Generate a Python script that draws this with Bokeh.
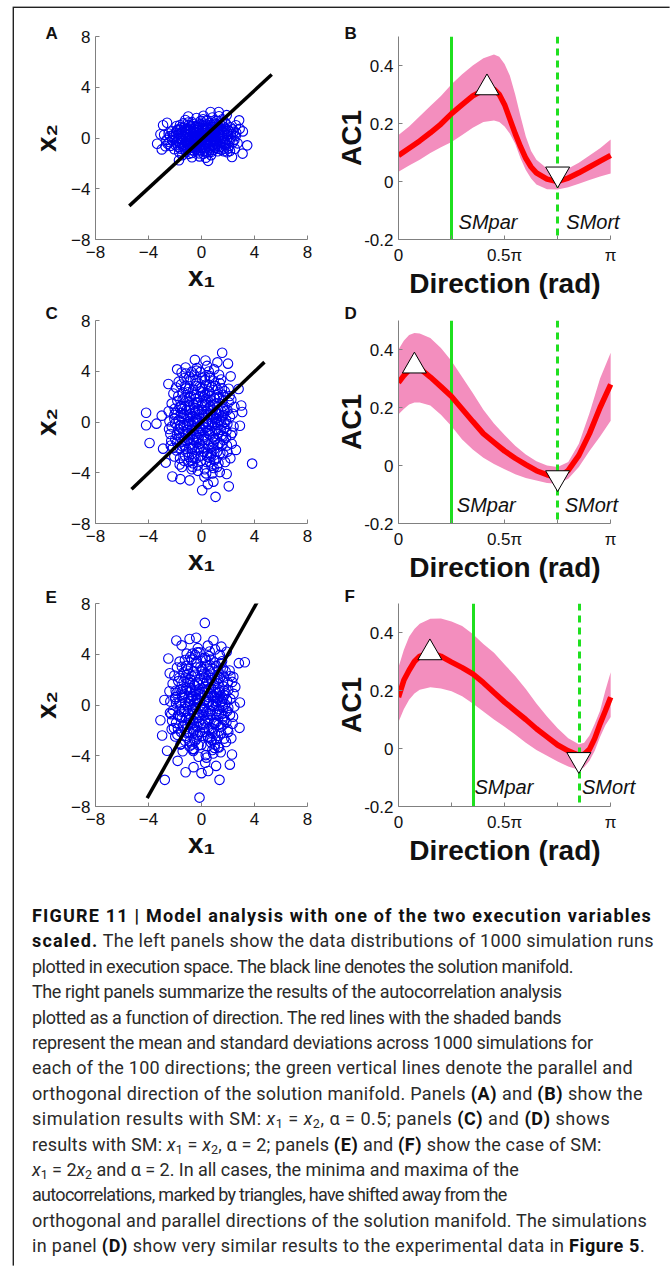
from bokeh.plotting import figure
from bokeh.models import Range1d, FixedTicker, Label, Div
from bokeh.layouts import row, column
from bokeh.embed import file_html
from bokeh.resources import INLINE

# ---------------- data: execution-space scatter (x1, x2) ----------------
a_pts = [(-0.12,0.31),(0.45,-0.22),(1.02,0.48),(-0.87,-0.35),(0.23,0.72),(-1.41,0.12),(1.63,-0.41),(-0.35,-0.81),(0.78,0.05),(-0.62,0.55),
(1.25,0.91),(-1.05,-0.62),(0.05,-0.15),(2.01,0.33),(-1.83,-0.21),(0.61,-0.66),(-0.28,0.98),(1.47,-0.05),(-0.95,0.27),(0.32,0.18),
(-1.62,0.64),(0.92,-0.93),(-0.51,-0.08),(1.81,0.72),(-2.12,0.05),(0.15,1.12),(0.68,0.62),(-1.24,-0.95),(1.12,-0.28),(-0.08,-0.52),
(2.35,-0.36),(-0.77,0.83),(0.48,0.35),(-1.95,-0.58),(1.38,0.22),(-0.41,0.41),(0.88,1.05),(-1.18,0.45),(0.21,-1.02),(1.71,-0.82),
(-0.65,-0.48),(0.03,0.62),(-2.41,-0.32),(1.55,1.22),(-0.19,-1.21),(0.72,-0.31),(-1.48,-0.42),(2.18,0.85),(-0.98,1.01),(0.38,-0.48),
(1.05,0.12),(-0.33,0.12),(-1.72,0.31),(0.95,0.71),(-0.55,-1.05),(1.92,-0.15),(-1.32,0.82),(0.12,0.95),(0.55,-1.12),(-0.82,-0.12),
(2.58,0.15),(-2.25,0.52),(1.28,-0.62),(-0.15,0.52),(0.66,0.28),(-1.15,0.08),(1.68,0.42),(-0.45,-0.35),(0.28,-0.75),(-2.65,-0.15),
(1.15,1.35),(-0.72,1.25),(0.42,1.42),(-1.58,-0.85),(2.08,-0.62),(-0.25,-0.18),(0.85,-0.55),(-1.88,0.95),(1.42,0.62),(-0.05,1.35),
(0.18,0.08),(-1.02,-0.25),(1.62,0.05),(-0.58,0.72),(2.42,0.48),(-2.05,-0.88),(0.75,0.88),(-0.35,-0.65),(1.22,-1.05),(-1.38,1.15),
(0.58,0.48),(-0.88,0.62),(1.88,1.08),(-1.68,-1.12),(0.35,-0.28),(-0.12,-0.95),(2.72,-0.42),(-2.48,0.35),(1.02,-0.78),(-0.68,0.15),
(0.08,0.42),(-1.28,-0.55),(1.35,0.45),(-0.42,0.95),(0.95,-0.12),(-1.92,0.42),(2.25,0.12),(-0.15,-1.45),(0.62,1.18),(-1.05,0.75),
(1.75,-0.45),(-0.52,-0.72),(0.25,0.25),(-2.32,-0.62),(1.52,-0.92),(-0.85,-0.95),(2.05,0.58),(-1.52,0.18),(0.45,0.65),(-0.25,0.78),
(1.18,0.68),(-0.95,-1.25),(0.72,-1.35),(-1.75,0.68),(2.52,-0.85),(-0.08,0.18),(0.98,0.32),(-0.62,-0.25),(1.58,1.48),(-1.22,1.42),
(0.32,-1.55),(-2.82,0.25),(1.95,-1.12),(-0.38,1.58),(0.82,1.62),(-1.45,-1.35),(2.88,0.72),(-0.72,-1.52),(1.32,1.72),(0.15,1.75),
(0.52,0.12),(-0.38,-0.42),(1.15,-0.45),(-1.12,0.32),(0.28,0.58),(-0.72,-0.72),(1.72,0.18),(-1.55,0.02),(0.02,-0.32),(0.95,1.22),
(-0.48,0.18),(1.48,-0.68),(-1.85,0.62),(0.65,-0.95),(-0.18,0.85),(2.12,-0.25),(-2.22,-0.18),(0.38,1.32),(-0.92,-0.55),(1.32,0.85),
(-0.05,0.05),(0.82,0.42),(-1.35,-0.72),(1.92,0.52),(-0.62,1.08),(0.12,-0.68),(1.05,-0.18),(-1.65,-0.35),(0.48,-0.38),(-0.28,-1.05),
(2.35,0.68),(-2.08,0.28),(0.72,1.02),(-1.05,0.52),(1.58,-0.25),(-0.35,0.62),(0.22,0.38),(-0.82,0.92),(1.25,0.35),(-1.48,0.48),
(0.92,-0.38),(-0.12,-0.62),(1.62,0.92),(-1.92,-0.38),(0.58,-0.15),(-0.55,-0.15),(2.02,-0.82),(-2.38,0.15),(0.35,0.92),(-0.75,-0.28),
(1.08,0.88),(-1.18,-1.08),(0.15,-1.25),(1.82,-0.55),(-0.95,0.05),(0.68,-0.52),(-1.52,0.85),(2.22,0.32),(-0.42,-0.88),(0.85,0.15),
(-0.22,0.28),(1.38,-0.35),(-1.75,-0.72),(0.45,0.78),(-0.65,0.35),(1.75,1.25),(-1.28,0.65),(0.05,0.78),(0.98,-0.65),(-0.88,-0.78),
(2.48,-0.15),(-2.55,-0.45),(0.62,0.05),(-0.32,-0.28),(1.22,0.05),(-1.02,1.22),(0.28,-0.48),(1.52,0.68),(-0.58,0.48),(0.75,-1.08),
(-1.42,-0.18),(1.95,0.25),(-0.15,1.08),(0.55,-0.82),(-1.95,0.18),(1.12,1.12),(-0.72,-1.18),(0.18,0.62),(1.68,-1.05),(-1.22,-0.32),
(2.62,0.42),(-2.72,-0.65),(0.88,0.55),(-0.48,-0.55),(1.42,1.05),(-0.85,0.72),(0.38,-1.15),(-1.62,1.02),(2.15,-1.02),(-0.08,-0.78),
(0.72,0.32),(-0.25,-0.45),(1.02,0.68),(-1.08,-0.45),(0.42,0.15),(-0.38,0.12),(1.28,-0.85),(-1.72,-0.05),(0.12,1.48),(-0.62,-0.62),
(-2.9,1.0),(-3.35,-0.45),(3.45,-0.58),(3.1,-1.23),(2.84,1.39),(3.12,0.52),(1.3,2.05),(0.68,2.05),(-1.7,-1.75),(0.5,-1.8),
(2.3,-1.5),(-3.0,-0.9),(-2.6,1.2),(1.9,1.8),(-1.0,1.7),(2.6,1.0),(-3.1,0.3)]

c_pts = [(0.12,0.55),(-0.45,1.82),(0.88,-1.21),(-1.12,-0.35),(0.35,2.95),(-0.72,-2.48),(1.45,0.92),(-0.18,-0.88),(0.62,3.62),(-1.55,1.25),
(1.05,-2.95),(-0.32,0.15),(0.25,-3.72),(-0.95,2.62),(1.72,-0.45),(-1.85,-1.62),(0.48,1.05),(-0.58,-1.45),(1.28,2.18),(-0.08,3.95),
(0.78,-0.28),(-1.35,0.62),(2.05,1.55),(-0.22,-2.15),(0.95,0.35),(-0.82,3.35),(1.52,-1.85),(-1.62,-2.85),(0.15,-1.05),(-0.48,0.82),
(1.18,-3.55),(-2.05,0.25),(0.55,2.45),(-1.02,-0.95),(1.85,0.18),(-0.35,4.25),(0.68,-2.05),(-1.28,1.92),(2.22,-1.02),(-0.65,-3.25),
(0.05,1.48),(-1.72,-0.58),(1.38,3.05),(-0.15,-0.32),(0.42,-2.72),(-0.92,0.05),(1.62,1.22),(-2.25,1.45),(0.82,-4.05),(-0.55,2.15),
(1.08,0.72),(-1.45,-1.92),(0.28,3.28),(-0.75,-0.62),(1.95,-2.35),(-1.92,2.72),(0.62,-0.72),(-0.28,-3.85),(1.25,-0.95),(-1.18,3.82),
(0.38,0.02),(-0.62,1.35),(1.55,2.65),(-2.35,-0.95),(0.92,-1.62),(-0.05,2.42),(1.78,-3.15),(-1.52,0.35),(0.18,-2.35),(-0.88,-1.75),
(2.35,0.65),(-0.38,3.05),(0.72,1.72),(-1.25,-2.65),(1.02,-0.12),(-1.98,-0.12),(0.45,-1.42),(-0.68,0.45),(1.32,3.72),(-1.42,2.35),
(0.08,-0.62),(-0.25,1.02),(1.68,-1.42),(-2.15,-2.05),(0.58,2.88),(-1.05,1.58),(1.48,0.05),(-0.45,-2.92),(0.95,4.15),(-1.65,-3.35),
(2.12,2.05),(-0.12,-1.72),(0.32,0.85),(-0.95,-0.15),(1.15,1.45),(-1.38,-0.75),(0.65,-3.18),(-0.55,3.72),(1.88,-0.72),(-2.48,0.85),
(0.22,-4.32),(-0.82,2.05),(1.42,-2.45),(-1.15,0.95),(0.85,0.52),(-0.32,-1.25),(2.42,-0.35),(-1.82,1.65),(0.48,-0.15),(-0.15,2.78),
(1.22,-1.78),(-0.72,-2.12),(0.02,3.45),(-1.55,-1.25),(1.65,0.55),(-0.42,0.25),(0.75,-2.45),(-1.95,0.72),(1.05,2.85),(-0.28,-3.42),
(2.28,-1.72),(-1.32,-3.05),(0.35,1.62),(-0.62,-0.95),(1.52,-0.28),(-2.28,-1.48),(0.55,3.98),(-0.88,1.12),(1.95,0.95),(-1.05,-2.35),
(0.12,-2.02),(-0.18,0.62),(1.32,1.92),(-1.72,3.18),(0.92,-3.62),(-0.52,-0.45),(1.75,2.42),(-2.05,-2.72),(0.28,2.12),(-0.98,-1.35),
(1.12,0.28),(-1.48,1.05),(0.68,-1.05),(-0.05,-2.65),(2.18,-2.85),(-1.22,2.85),(0.42,4.42),(-0.75,-3.72),(1.62,-1.12),(-2.42,0.05),
(0.85,1.32),(-0.35,-0.05),(1.38,-3.95),(-1.62,-0.25),(0.15,1.95),(-0.92,3.55),(2.48,1.18),(-1.85,-1.05),(0.58,-2.82),(-0.42,1.55),
(0.32,-0.45),(-0.25,0.95),(0.72,0.65),(-0.85,-1.05),(1.12,-0.55),(-1.28,0.28),(0.45,2.25),(-0.55,-2.72),(1.58,1.72),(-1.68,-0.85),
(0.08,-1.45),(-0.12,1.95),(0.95,-2.15),(-1.02,2.35),(1.35,0.15),(-1.45,-1.55),(0.58,-0.95),(-0.35,0.35),(1.85,-1.25),(-2.02,1.05),
(0.25,3.58),(-0.68,-3.52),(1.22,2.55),(-1.15,-2.12),(0.82,-0.05),(-0.92,1.62),(1.65,-2.55),(-1.75,2.05),(0.38,-3.15),(-0.42,2.85),
(2.15,0.42),(-2.25,-0.35),(0.65,1.25),(-0.72,-0.25),(1.02,-1.35),(-1.22,1.25),(0.18,0.32),(-0.18,-0.72),(1.45,-0.62),(-1.55,0.72),
(0.52,-1.85),(-0.62,2.55),(1.75,0.85),(-1.88,-2.25),(0.02,2.72),(-0.05,-3.05),(0.92,3.25),(-0.98,-3.15),(1.28,-3.25),(-1.32,3.45),
(2.32,-0.85),(-2.45,-0.55),(0.48,0.55),(-0.52,1.12),(1.15,1.95),(-1.12,-1.48),(0.72,-2.65),(-0.78,0.62),(1.62,2.15),(-1.62,-2.05),
(0.15,-0.15),(-0.22,-1.25),(0.85,0.95),(-0.88,0.38),(1.38,-1.65),(-1.42,1.75),(0.62,3.48),(-0.65,-1.95),(1.92,-1.85),(-1.98,-1.35),
(0.28,1.35),(-0.32,-2.25),(1.05,-0.72),(-1.05,0.52),(1.55,0.45),(-1.58,-0.45),(0.42,-2.42),(-0.45,3.25),(2.05,2.62),(-2.12,2.25),
(0.75,-3.45),(-0.75,3.95),(1.25,0.95),(-1.25,-0.95),(0.05,0.95),(-0.08,-0.45),(0.98,1.85),(-0.95,-2.75),(1.72,-0.02),(-1.72,0.15),
(0.35,-4.05),(-0.38,4.05),(1.48,3.35),(-1.48,-3.55),(0.68,2.05),(-0.65,-1.35),(1.18,-2.35),(-1.18,2.65),(2.25,1.75),(-2.32,-1.85),
(0.55,0.22),(-0.52,-0.12),(0.88,-1.85),(-0.92,1.95),(1.32,0.62),(-1.35,-0.25),(0.12,2.35),(-0.15,-2.05),(1.68,1.05),(-1.65,1.15),
(0.48,-0.65),(-0.48,0.72),(1.08,0.25),(-1.08,-0.62),(0.78,2.75),(-0.78,-3.05),(1.52,-1.05),(-1.55,2.95),(0.22,-1.15),(-0.25,1.55),
(1.95,-0.15),(-2.05,0.55),(0.95,-3.02),(-0.95,0.95),(0.38,1.85),(-0.38,-1.65),(1.25,-0.25),(-1.28,-1.85),(0.65,0.85),(-0.62,0.05),
(-4.18,0.73),(-4.18,-0.26),(-3.92,-1.65),(-3.4,-0.13),(3.82,-3.28),(2.06,-5.07),(1.06,-5.9),(1.56,5.46),(0.05,-5.38),(0.48,-4.9),
(2.0,4.6),(-1.84,4.15),(3.0,1.3),(3.07,0.79),(-0.5,4.9),(0.3,4.85),(-2.2,-4.3),(-1.6,-4.5),(2.6,-2.2),(-3.0,0.5),
(-2.9,-2.1),(2.8,2.6),(2.9,-0.3),(1.9,-4.1),(-0.9,-4.6),(-1.5,3.9),(1.2,4.7),(-2.5,3.0),(2.2,3.6),(-2.7,-3.2),(0.9,-4.7),(-1.2,4.3)]

e_pts = [(0.21,0.35),(-0.52,1.55),(0.95,-1.45),(-1.05,-0.12),(0.42,3.15),(-0.65,-2.25),(1.38,1.12),(-0.25,-0.65),(0.55,3.85),(-1.48,1.05),
(1.12,-2.72),(-0.38,0.38),(0.32,-3.95),(-1.02,2.85),(1.65,-0.22),(-1.78,-1.85),(0.55,1.28),(-0.62,-1.22),(1.35,2.42),(-0.15,4.15),
(0.85,-0.05),(-1.28,0.85),(1.98,1.78),(-0.28,-2.38),(1.02,0.58),(-0.75,3.58),(1.58,-1.62),(-1.55,-3.08),(0.22,-0.82),(-0.42,1.05),
(1.25,-3.32),(-1.98,0.48),(0.62,2.68),(-0.95,-1.18),(1.92,0.42),(-0.28,4.48),(0.75,-1.82),(-1.22,2.15),(2.15,-0.78),(-0.58,-3.48),
(0.12,1.72),(-1.65,-0.35),(1.45,3.28),(-0.08,-0.08),(0.48,-2.48),(-0.85,0.28),(1.68,1.45),(-2.18,1.68),(0.88,-3.82),(-0.48,2.38),
(1.15,0.95),(-1.38,-1.68),(0.35,3.52),(-0.68,-0.38),(2.02,-2.12),(-1.85,2.95),(0.68,-0.48),(-0.22,-4.08),(1.32,-0.72),(-1.12,4.05),
(0.45,0.25),(-0.55,1.58),(1.62,2.88),(-2.28,-0.72),(0.98,-1.38),(0.02,2.65),(1.85,-2.92),(-1.45,0.58),(0.25,-2.12),(-0.82,-1.52),
(2.42,0.88),(-0.32,3.28),(0.78,1.95),(-1.18,-2.42),(1.08,0.12),(-1.92,0.12),(0.52,-1.18),(-0.62,0.68),(1.38,3.95),(-1.35,2.58),
(0.15,-0.38),(-0.18,1.25),(1.75,-1.18),(-2.08,-1.82),(0.65,3.12),(-0.98,1.82),(1.55,0.28),(-0.38,-2.68),(1.02,4.38),(-1.58,-3.12),
(2.18,2.28),(-0.05,-1.48),(0.38,1.08),(-0.88,0.08),(1.22,1.68),(-1.32,-0.52),(0.72,-2.95),(-0.48,3.95),(1.95,-0.48),(-2.42,1.08),
(0.28,-4.55),(-0.75,2.28),(1.48,-2.22),(-1.08,1.18),(0.92,0.75),(-0.25,-1.02),(2.48,-0.12),(-1.75,1.88),(0.55,0.08),(-0.08,3.02),
(1.28,-1.55),(-0.65,-1.88),(0.08,3.68),(-1.48,-1.02),(1.72,0.78),(-0.35,0.48),(0.82,-2.22),(-1.88,0.95),(1.12,3.08),(-0.22,-3.18),
(2.35,-1.48),(-1.25,-2.82),(0.42,1.85),(-0.55,-0.72),(1.58,-0.05),(-2.22,-1.25),(0.62,4.22),(-0.82,1.35),(2.02,1.18),(-0.98,-2.12),
(0.18,-1.78),(-0.12,0.85),(1.38,2.15),(-1.65,3.42),(0.98,-3.38),(-0.45,-0.22),(1.82,2.65),(-1.98,-2.48),(0.35,2.35),(-0.92,-1.12),
(1.18,0.52),(-1.42,1.28),(0.75,-0.82),(0.02,-2.42),(2.25,-2.62),(-1.15,3.08),(0.48,4.68),(-0.68,-3.48),(1.68,-0.88),(-2.35,0.28),
(0.92,1.55),(-0.28,0.18),(1.45,-3.72),(-1.55,-0.02),(0.22,2.18),(-0.85,3.78),(2.55,1.42),(-1.78,-0.82),(0.65,-2.58),(-0.35,1.78),
(0.35,-0.55),(-0.22,0.88),(0.78,0.72),(-0.82,-1.12),(1.18,-0.48),(-1.22,0.22),(0.52,2.35),(-0.48,-2.82),(1.62,1.85),(-1.62,-0.92),
(0.12,-1.55),(-0.08,2.05),(1.02,-2.25),(-0.98,2.45),(1.42,0.22),(-1.38,-1.62),(0.62,-1.02),(-0.32,0.42),(1.88,-1.35),(-1.95,1.12),
(0.28,3.72),(-0.62,-3.62),(1.28,2.65),(-1.08,-2.22),(0.88,0.02),(-0.88,1.72),(1.72,-2.65),(-1.68,2.15),(0.42,-3.25),(-0.38,2.95),
(2.18,0.48),(-2.15,-0.42),(0.72,1.32),(-0.68,-0.32),(1.08,-1.42),(-1.15,1.32),(0.22,0.38),(-0.15,-0.78),(1.52,-0.68),(-1.48,0.78),
(0.58,-1.95),(-0.58,2.65),(1.82,0.92),(-1.82,-2.35),(0.05,2.82),(-0.02,-3.15),(0.98,3.35),(-0.92,-3.25),(1.32,-3.35),(-1.25,3.55),
(2.38,-0.92),(-2.38,-0.62),(0.52,0.62),(-0.48,1.18),(1.22,2.05),(-1.05,-1.55),(0.78,-2.75),(-0.72,0.68),(1.68,2.25),(-1.55,-2.12),
(0.18,-0.22),(-0.18,-1.32),(0.92,1.02),(-0.82,0.45),(1.45,-1.72),(-1.35,1.82),(0.68,3.58),(-0.58,-2.02),(1.98,-1.92),(-1.92,-1.42),
(0.32,1.42),(-0.28,-2.32),(1.12,-0.78),(-0.98,0.58),(1.62,0.52),(-1.52,-0.52),(0.48,-2.52),(-0.42,3.35),(2.12,2.72),(-2.05,2.32),
(0.82,-3.55),(-0.68,4.05),(1.32,1.02),(-1.18,-1.02),(0.08,1.02),(-0.05,-0.52),(1.05,1.92),(-0.88,-2.85),(1.78,0.05),(-1.65,0.22),
(0.38,-4.15),(-0.32,4.15),(1.55,3.45),(-1.42,-3.65),(0.72,2.12),(-0.58,-1.42),(1.25,-2.42),(-1.12,2.72),(2.32,1.82),(-2.25,-1.92),
(0.58,0.28),(-0.45,-0.18),(0.92,-1.92),(-0.85,2.02),(1.38,0.68),(-1.28,-0.32),(0.15,2.42),(-0.12,-2.12),(1.72,1.12),(-1.58,1.22),
(0.52,-0.72),(-0.42,0.78),(1.12,0.32),(-1.02,-0.68),(0.82,2.85),(-0.72,-3.12),(1.58,-1.12),(-1.48,3.02),(0.25,-1.22),(-0.22,1.62),
(2.02,-0.22),(-1.98,0.62),(1.02,-3.12),(-0.88,1.02),(0.42,1.92),(-0.32,-1.72),(1.32,-0.32),(-1.22,-1.92),(0.72,0.92),(-0.55,0.12),
(0.25,6.47),(-0.15,-7.3),(-2.77,-5.9),(1.36,-5.9),(2.14,-4.7),(2.87,-1.8),(3.27,3.37),(2.82,3.3),(-3.1,-1.2),(-1.9,5.08),
(-2.5,3.66),(-2.97,-2.4),(0.0,-5.37),(-1.2,-5.3),(-1.5,4.7),(-0.4,5.3),(0.9,5.1),(1.5,4.6),(2.4,2.2),(-2.8,0.4),
(-0.6,-4.9),(1.1,-4.8),(-1.8,-4.4),(2.3,-3.9),(-2.6,-3.6),(2.9,0.2),(-2.4,2.5),(1.9,4.2),(-0.9,5.2),(0.5,-5.2)]

# solution manifold end points (x1, x2)
sm_a_x1 = [-5.45, 5.3];  sm_a_x2 = [-5.35, 5.0]
sm_c_x1 = [-5.28, 4.75]; sm_c_x2 = [-5.3, 4.72]
sm_e_x1 = [-4.1, 4.2];   sm_e_x2 = [-7.34, 8.1]

# ---------------- data: AC1 vs direction (direction in units of pi) ----------------
b_dir  = [0, 0.05, 0.1, 0.15, 0.2, 0.25, 0.3, 0.35, 0.4, 0.45, 0.475, 0.5, 0.525, 0.55, 0.575, 0.6, 0.625, 0.65, 0.7, 0.75, 0.8, 0.85, 0.9, 0.95, 1.0]
b_mean = [0.09, 0.115, 0.14, 0.168, 0.198, 0.234, 0.265, 0.295, 0.315, 0.318, 0.30, 0.265, 0.215, 0.165, 0.12, 0.08, 0.05, 0.03, 0.008, 0.0, 0.012, 0.03, 0.05, 0.07, 0.09]
b_up   = [0.16, 0.19, 0.225, 0.26, 0.295, 0.335, 0.37, 0.40, 0.425, 0.438, 0.43, 0.405, 0.365, 0.30, 0.225, 0.155, 0.105, 0.075, 0.045, 0.038, 0.045, 0.065, 0.09, 0.115, 0.145]
b_lo   = [0.034, 0.055, 0.075, 0.098, 0.118, 0.136, 0.16, 0.185, 0.205, 0.21, 0.205, 0.19, 0.165, 0.13, 0.08, 0.04, 0.01, -0.01, -0.027, -0.028, -0.02, -0.008, 0.005, 0.017, 0.028]
b_max = (0.417, 0.323); b_min = (0.75, 0.026)
b_par, b_ort = 0.25, 0.75

d_dir  = [0, 0.025, 0.05, 0.075, 0.1, 0.15, 0.2, 0.25, 0.3, 0.35, 0.4, 0.45, 0.5, 0.55, 0.6, 0.65, 0.7, 0.75, 0.8, 0.85, 0.9, 0.95, 1.0]
d_mean = [0.286, 0.31, 0.33, 0.343, 0.335, 0.305, 0.272, 0.238, 0.195, 0.152, 0.11, 0.08, 0.05, 0.025, 0.003, -0.018, -0.032, -0.042, -0.017, 0.035, 0.11, 0.2, 0.28]
d_up   = [0.40, 0.43, 0.45, 0.457, 0.455, 0.44, 0.405, 0.36, 0.305, 0.25, 0.192, 0.145, 0.105, 0.068, 0.038, 0.015, 0.0, -0.005, 0.012, 0.075, 0.18, 0.30, 0.389]
d_lo   = [0.177, 0.195, 0.21, 0.217, 0.217, 0.207, 0.175, 0.135, 0.09, 0.055, 0.027, 0.005, -0.013, -0.03, -0.043, -0.052, -0.06, -0.063, -0.046, -0.005, 0.05, 0.10, 0.154]
d_max = (0.075, 0.343); d_min = (0.75, -0.042)
d_par, d_ort = 0.25, 0.75

f_dir  = [0, 0.025, 0.05, 0.075, 0.1, 0.15, 0.2, 0.25, 0.3, 0.35, 0.4, 0.45, 0.5, 0.55, 0.6, 0.65, 0.7, 0.75, 0.8, 0.85, 0.875, 0.9, 0.925, 0.95, 0.975, 1.0]
f_mean = [0.177, 0.235, 0.27, 0.30, 0.318, 0.331, 0.318, 0.298, 0.279, 0.257, 0.227, 0.193, 0.16, 0.13, 0.10, 0.068, 0.04, 0.012, -0.008, -0.023, -0.02, -0.003, 0.035, 0.085, 0.13, 0.177]
f_up   = [0.28, 0.34, 0.385, 0.412, 0.43, 0.447, 0.448, 0.438, 0.422, 0.395, 0.36, 0.33, 0.29, 0.25, 0.205, 0.155, 0.11, 0.07, 0.035, 0.015, 0.02, 0.045, 0.085, 0.13, 0.20, 0.263]
f_lo   = [0.091, 0.135, 0.168, 0.19, 0.203, 0.211, 0.207, 0.197, 0.18, 0.155, 0.128, 0.10, 0.075, 0.048, 0.02, -0.005, -0.025, -0.045, -0.062, -0.073, -0.065, -0.042, -0.008, 0.04, 0.08, 0.109]
f_max = (0.148, 0.33); f_min = (0.85, -0.038)
f_par, f_ort = 0.352, 0.852

xy_ticks = [-8, -4, 0, 4, 8]
dir_ticks = [0, 0.25, 0.5, 0.75, 1.0]
dir_labels = {0: "0", 0.25: "", 0.5: "0.5\u03c0", 0.75: "", 1.0: "\u03c0"}
ac_ticks = [-0.2, 0, 0.2, 0.4]
ac_labels = {-0.2: "-0.2", 0: "0", 0.2: "0.2", 0.4: "0.4"}

FONT = "Liberation Sans"
GREY = "#808080"
BLUE = "#0000EE"
PINK = "#F38EBE"
GREEN = "#1FE01F"
DIR_XMAX = 1.15   # frame extends a little past pi so the SMort text is not cut


def style_axes(p, xlabel, ylabel, xstand, ystand):
    for ax in (p.xaxis[0], p.yaxis[0]):
        ax.axis_line_color = GREY
        ax.axis_line_width = 1
        ax.major_tick_line_color = GREY
        ax.major_tick_in = 4
        ax.major_tick_out = 0
        ax.minor_tick_line_color = None
        ax.major_label_text_font = FONT
        ax.major_label_text_font_size = "17px"
        ax.major_label_text_color = "#111111"
        ax.axis_label_text_font = FONT
        ax.axis_label_text_font_style = "bold"
        ax.axis_label_text_font_size = "28px"
        ax.axis_label_text_color = "#111111"
    p.xaxis[0].axis_label = xlabel
    p.yaxis[0].axis_label = ylabel
    p.xaxis[0].major_label_standoff = 6
    p.yaxis[0].major_label_standoff = 5
    p.xaxis[0].axis_label_standoff = xstand
    p.yaxis[0].axis_label_standoff = ystand
    p.grid.visible = False
    p.outline_line_color = None


def set_letter(p, letter, offset, standoff):
    p.title.text = letter
    p.title.align = "left"
    p.title.offset = offset
    p.title.standoff = standoff
    p.title.text_font = FONT
    p.title.text_font_style = "bold"
    p.title.text_font_size = "17px"
    p.title.text_color = "#111111"


def make_fig(w, h, borders, xr, yr):
    p = figure(width=w, height=h, x_range=Range1d(*xr), y_range=Range1d(*yr),
               output_backend="svg", toolbar_location=None,
               min_border_left=borders[0], min_border_right=borders[1],
               min_border_top=borders[2], min_border_bottom=borders[3])
    p.border_fill_color = None
    p.background_fill_color = None
    return p


def scatter_panel(w, h, borders, pts, smx, smy, letter, lstand):
    p = make_fig(w, h, borders, (-8, 8), (-8, 8))
    xs = [q[0] for q in pts]
    ys = [q[1] for q in pts]
    p.scatter(xs, ys, marker="circle", size=9.5, fill_color=None, line_color=BLUE, line_width=1.1)
    p.line(smx, smy, line_color="black", line_width=3.5)
    style_axes(p, "x\u2081", "x\u2082", 0, 6)
    p.xaxis[0].ticker = FixedTicker(ticks=xy_ticks)
    p.yaxis[0].ticker = FixedTicker(ticks=xy_ticks)
    set_letter(p, letter, -50, lstand)
    return p


def ac_panel(w, h, borders, d, mean, up, lo, mx, mn, par, ort, letter, lstand, smpos):
    p = make_fig(w, h, borders, (0, DIR_XMAX), (-0.2, 0.5))
    p.varea(x=d, y1=lo, y2=up, fill_color=PINK)
    p.vspan(x=[par], line_color=GREEN, line_width=3)
    p.vspan(x=[ort], line_color=GREEN, line_width=3, line_dash="7 5")
    p.line(d, mean, line_color="#FF0000", line_width=5.5)
    p.scatter([mx[0]], [mx[1]], marker="triangle", size=24, fill_color="white", line_color="black", line_width=1)
    p.scatter([mn[0]], [mn[1]], marker="inverted_triangle", size=24, fill_color="white", line_color="black", line_width=1)
    style_axes(p, "Direction (rad)\u00a0\u00a0\u00a0\u00a0", "AC1", 0, -6)
    p.xaxis[0].bounds = (0, 1)
    p.xaxis[0].ticker = FixedTicker(ticks=dir_ticks)
    p.xaxis[0].major_label_overrides = dir_labels
    p.yaxis[0].ticker = FixedTicker(ticks=ac_ticks)
    p.yaxis[0].major_label_overrides = ac_labels
    set_letter(p, letter, -54, lstand)
    p.add_layout(Label(x=smpos[0], y=smpos[2], text="SMpar", text_font=FONT, text_font_style="italic",
                       text_font_size="20px", text_baseline="middle", text_align="left", text_color="#111111"))
    p.add_layout(Label(x=smpos[1], y=smpos[2], text="SMort", text_font=FONT, text_font_style="italic",
                       text_font_size="20px", text_baseline="middle", text_align="left", text_color="#111111"))
    return p


pA = scatter_panel(318, 294, (81, 25, 28, 63), a_pts, sm_a_x1, sm_a_x2, "A", -13)
pB = ac_panel(339, 294, (66, 29, 28, 63), b_dir, b_mean, b_up, b_lo, b_max, b_min, b_par, b_ort,
              "B", -13, (0.283, 0.791, -0.139))
pC = scatter_panel(318, 284, (81, 25, 18, 63), c_pts, sm_c_x1, sm_c_x2, "C", -4)
pD = ac_panel(339, 284, (66, 29, 18, 63), d_dir, d_mean, d_up, d_lo, d_max, d_min, d_par, d_ort,
              "D", -4, (0.275, 0.783, -0.137))
pE = scatter_panel(318, 294, (81, 25, 17, 74), e_pts, sm_e_x1, sm_e_x2, "E", -7)
pF = ac_panel(339, 294, (66, 29, 17, 74), f_dir, f_mean, f_up, f_lo, f_max, f_min, f_par, f_ort,
              "F", -5, (0.358, 0.865, -0.134))

SUB = '<sub style="font-size:70%;vertical-align:-0.25em;line-height:0">{}</sub>'
X1 = '<i>x</i>' + SUB.format('1')
X2 = '<i>x</i>' + SUB.format('2')
caption_lines = [
    '<b class="h">FIGURE 11 | Model analysis with one of the two execution variables</b>',
    '<b class="h">scaled.</b> The left panels show the data distributions of 1000 simulation runs',
    "plotted in execution space. The black line denotes the solution manifold.",
    "The right panels summarize the results of the autocorrelation analysis",
    "plotted as a function of direction. The red lines with the shaded bands",
    "represent the mean and standard deviations across 1000 simulations for",
    "each of the 100 directions; the green vertical lines denote the parallel and",
    "orthogonal direction of the solution manifold. Panels <b>(A)</b> and <b>(B)</b> show the",
    "simulation results with SM: " + X1 + " = " + X2 + ", \u03b1 = 0.5; panels <b>(C)</b> and <b>(D)</b> shows",
    "results with SM: " + X1 + " = " + X2 + ", \u03b1 = 2; panels <b>(E)</b> and <b>(F)</b> show the case of SM:",
    X1 + " = 2" + X2 + " and \u03b1 = 2. In all cases, the minima and maxima of the",
    "autocorrelations, marked by triangles, have shifted away from the",
    "orthogonal and parallel directions of the solution manifold. The simulations",
    "in panel <b>(D)</b> show very similar results to the experimental data in <b>Figure 5</b>.",
]
# per-line tracking (px) so each line ends where it does in the printed caption
caption_spacing = [0, 0.25, -0.49, -0.40, -0.38, -0.27, 0.24, 0.26, 0.5, 0.16, -0.04, -0.7, 0.2, 0.31]
caption_body = "<br>".join('<span style="letter-spacing:{}px">{}</span>'.format(s, t)
                           for s, t in zip(caption_spacing, caption_lines))
caption_html = ('<style>b{color:#111;letter-spacing:0.6px;} b.h{letter-spacing:1.2px;}</style>'
                '<div style="padding:23px 0 0 18px;font-family:Roboto;font-size:18px;line-height:25.4px;'
                'color:#2a2a2a;white-space:nowrap;">' + caption_body + "</div>")
caption = Div(text=caption_html, width=657, height=387, margin=0)

# page frame: thin rules along the top and left edge, drawn just outside the block
layout = column(row(pA, pB), row(pC, pD), row(pE, pF), caption,
                margin=(8, 0, 0, 14),
                styles={"box-shadow": "-1.4px -1.4px 0 0 #222"})

open("out.html", "w").write(file_html(layout, INLINE))
